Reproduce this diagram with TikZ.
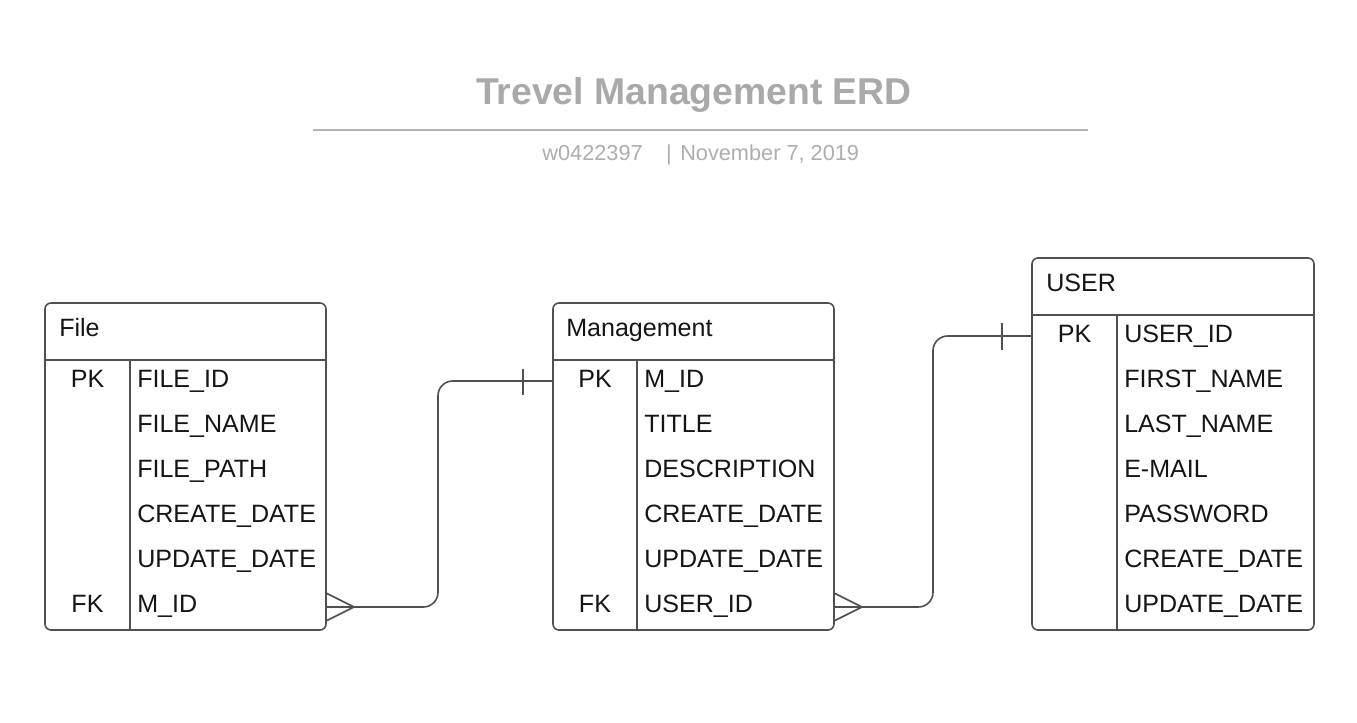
\documentclass[tikz,border=0pt]{standalone}
\usepackage{fontspec}
\setmainfont{Liberation Sans}
\definecolor{bordercol}{HTML}{505050}
\definecolor{titlecol}{HTML}{A9A9A9}
\definecolor{subcol}{HTML}{ADADAD}
\definecolor{linecol}{HTML}{B4B4B4}
\definecolor{txtcol}{HTML}{151515}
\begin{document}
\begin{tikzpicture}[x=0.75pt,y=-0.75pt,
  tbl/.style={draw=bordercol,line width=1.2pt,rounded corners=4.5pt,inner sep=0pt,outer sep=0pt,minimum width=210.75pt},
  sep/.style={draw=bordercol,line width=1.2pt},
  conn/.style={draw=bordercol,line width=1.2pt,rounded corners=11pt},
  fld/.style={anchor=base west,inner sep=0pt,text=txtcol,font=\fontsize{18.8}{20}\selectfont},
  key/.style={anchor=base,inner sep=0pt,text=txtcol,font=\fontsize{18.8}{20}\selectfont}]
\useasboundingbox (0,0) rectangle (1357,722);
% title
\node[anchor=base,inner sep=0pt,text=titlecol,font=\fontsize{28}{30}\selectfont\bfseries] (title) at (694,104) {Trevel Management ERD};
\draw[linecol,line width=1.6pt] (313,130) -- (1088,130);
\node[anchor=base east,inner sep=0pt,text=subcol,font=\fontsize{16.3}{18}\selectfont] (sid) at (643,160) {w0422397};
\node[anchor=base,inner sep=0pt,text=subcol,font=\fontsize{16.3}{18}\selectfont] (spipe) at (669,160) {|};
\node[anchor=base west,inner sep=0pt,text=subcol,font=\fontsize{16.3}{18}\selectfont] (sdate) at (680,160) {November 7, 2019};

% File table
\node[tbl,minimum height=245.25pt] (file) at (185.5,466.5) {};
\draw[sep] (45,360) -- (326,360);
\draw[sep] (130,360) -- (130,630);
\node[fld] (fileh) at (59,336) {File};
\node[key] (filepk) at (87.5,387) {PK};
\node[key] (filefk) at (87.5,612) {FK};
\node[fld] (f1) at (137,387) {FILE\_ID};
\node[fld] (f2) at (137,432) {FILE\_NAME};
\node[fld] (f3) at (137,477) {FILE\_PATH};
\node[fld] (f4) at (137,522) {CREATE\_DATE};
\node[fld] (f5) at (137,567) {UPDATE\_DATE};
\node[fld] (f6) at (137,612) {M\_ID};

% Management table
\node[tbl,minimum height=245.25pt] (mgmt) at (693.5,466.5) {};
\draw[sep] (553,360) -- (834,360);
\draw[sep] (637,360) -- (637,630);
\node[fld] (mgmth) at (566,336) {Management};
\node[key] (mpk) at (595,387) {PK};
\node[key] (mfk) at (595,612) {FK};
\node[fld] (m1) at (644,387) {M\_ID};
\node[fld] (m2) at (644,432) {TITLE};
\node[fld] (m3) at (644,477) {DESCRIPTION};
\node[fld] (m4) at (644,522) {CREATE\_DATE};
\node[fld] (m5) at (644,567) {UPDATE\_DATE};
\node[fld] (m6) at (644,612) {USER\_ID};

% USER table
\node[tbl,minimum width=211.5pt,minimum height=279pt] (user) at (1173,444) {};
\draw[sep] (1032,315) -- (1314,315);
\draw[sep] (1117,315) -- (1117,630);
\node[fld] (userh) at (1046,291) {USER};
\node[key] (upk) at (1074.5,342) {PK};
\node[fld] (u1) at (1124,342) {USER\_ID};
\node[fld] (u2) at (1124,387) {FIRST\_NAME};
\node[fld] (u3) at (1124,432) {LAST\_NAME};
\node[fld] (u4) at (1124,477) {E-MAIL};
\node[fld] (u5) at (1124,522) {PASSWORD};
\node[fld] (u6) at (1124,567) {CREATE\_DATE};
\node[fld] (u7) at (1124,612) {UPDATE\_DATE};

% connector anchors
\coordinate (fileFK) at (file.east |- 0,607);
\coordinate (mgmtPK) at (mgmt.west |- 0,381);
\coordinate (mgmtFK) at (mgmt.east |- 0,607);
\coordinate (userPK) at (user.west |- 0,336);

% File -> Management
\draw[conn] (fileFK) -- (438,607) -- (438,381) -- (mgmtPK);
\draw[sep] ([yshift=10.5pt]fileFK) -- ([xshift=21pt]fileFK) -- ([yshift=-10.5pt]fileFK);
\draw[sep] (523,369) -- (523,395);

% Management -> USER
\draw[conn] (mgmtFK) -- (933,607) -- (933,336) -- (userPK);
\draw[sep] ([yshift=10.5pt]mgmtFK) -- ([xshift=21pt]mgmtFK) -- ([yshift=-10.5pt]mgmtFK);
\draw[sep] (1002,323) -- (1002,350);
\end{tikzpicture}
\end{document}
